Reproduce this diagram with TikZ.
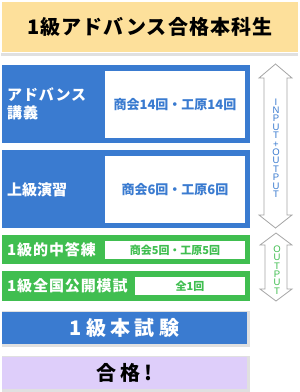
\documentclass[tikz,border=0pt]{standalone}
\usepackage{fontspec}
\newfontfamily\jp{Noto Sans CJK JP}
\newfontfamily\jpsp{Noto Sans CJK JP}[LetterSpace=22]
\newfontfamily\jpsm{Noto Sans CJK JP}[LetterSpace=6]
\newfontfamily\lat{Liberation Sans}
\definecolor{ylw}{RGB}{253,224,155}
\definecolor{blu}{RGB}{58,123,208}
\definecolor{grn}{RGB}{64,190,80}
\definecolor{prp}{RGB}{222,206,250}
\definecolor{shd}{RGB}{224,224,224}
\definecolor{arrg}{RGB}{165,165,165}
\begin{document}
\begin{tikzpicture}[x=1pt,y=-1pt,
  panel/.style={rectangle,inner sep=0pt,outer sep=0pt},
  wbox/.style={panel,fill=white},
  arrowshape/.style={draw=arrg,line width=0.8pt,fill=white,line join=miter},
  stack/.style={inner sep=0pt,align=center,font=\lat\fontsize{9.5}{8.4}\selectfont}]
\useasboundingbox (0,0) rectangle (300,392);
% title
\fill[shd] (1,52.5) rectangle (298,55.5);
\node[panel,fill=ylw,minimum width=296pt,minimum height=50pt] (title) at (150,27)
  {\jpsm\bfseries\fontsize{20}{24}\selectfont 1級アドバンス合格本科生};
% block 1
\node[panel,fill=blu,minimum width=248pt,minimum height=78pt] (b1) at (126,104) {};
\node[wbox,minimum width=140pt,minimum height=67pt] (w1) at (175,104.5)
  {\jp\bfseries\fontsize{13}{15}\selectfont\color{blu}商会14回・工原14回};
\node[inner sep=0pt,anchor=west,align=left,text=white,font=\jpsm\bfseries\fontsize{15}{18}\selectfont] (t1) at (7,104) {アドバンス\\講義};
% block 2
\node[panel,fill=blu,minimum width=248pt,minimum height=78pt] (b2) at (126,189) {};
\node[wbox,minimum width=140pt,minimum height=67pt] (w2) at (175,189.5)
  {\jp\bfseries\fontsize{13}{15}\selectfont\color{blu}商会6回・工原6回};
\node[inner sep=0pt,anchor=west,text=white,font=\jp\bfseries\fontsize{15}{18}\selectfont] (t2) at (7,190) {上級演習};
% green 1
\node[panel,fill=grn,minimum width=248pt,minimum height=29pt] (g1) at (126,249.5) {};
\node[wbox,minimum width=140pt,minimum height=18pt] (w3) at (175,250)
  {\jp\bfseries\fontsize{11}{13}\selectfont\color{grn}商会5回・工原5回};
\node[inner sep=0pt,anchor=west,text=white,font=\jpsm\bfseries\fontsize{15}{18}\selectfont] (t3) at (7,250) {1級的中答練};
% green 2
\node[panel,fill=grn,minimum width=248pt,minimum height=30pt] (g2) at (126,286) {};
\node[wbox,minimum width=110pt,minimum height=18pt] (w4) at (190,286)
  {\jp\bfseries\fontsize{11}{13}\selectfont\color{grn}全1回};
\node[inner sep=0pt,anchor=west,text=white,font=\jpsm\bfseries\fontsize{15}{18}\selectfont] (t4) at (7,286) {1級全国公開模試};
% exam
\fill[shd] (2,311) rectangle (250,347);
\node[panel,fill=blu,minimum width=245pt,minimum height=32pt] (exam) at (124.5,328)
  {\jpsp\bfseries\fontsize{20}{24}\selectfont\color{white}1級本試験};
% pass
\fill[shd] (2,356) rectangle (250,392);
\node[panel,fill=prp,minimum width=245pt,minimum height=32pt] (pass) at (124.5,373)
  {\jpsp\bfseries\fontsize{20}{24}\selectfont 合格!};
% arrow 1
\draw[arrowshape] (275.5,64) -- (292,78) -- (287,78) -- (287,215) -- (292,215) -- (275.5,228)
  -- (259,215) -- (264,215) -- (264,78) -- (259,78) -- cycle;
\node[stack,text=blu] (io) at (276,148) {I\\N\\P\\U\\T\\+\\O\\U\\T\\P\\U\\T};
% arrow 2
\draw[arrowshape] (276,233) -- (292,245) -- (287,245) -- (287,289) -- (292,289) -- (276,301)
  -- (260,289) -- (265,289) -- (265,245) -- (260,245) -- cycle;
\node[stack,text=grn] (oo) at (277,270) {O\\U\\T\\P\\U\\T};
\end{tikzpicture}
\end{document}
